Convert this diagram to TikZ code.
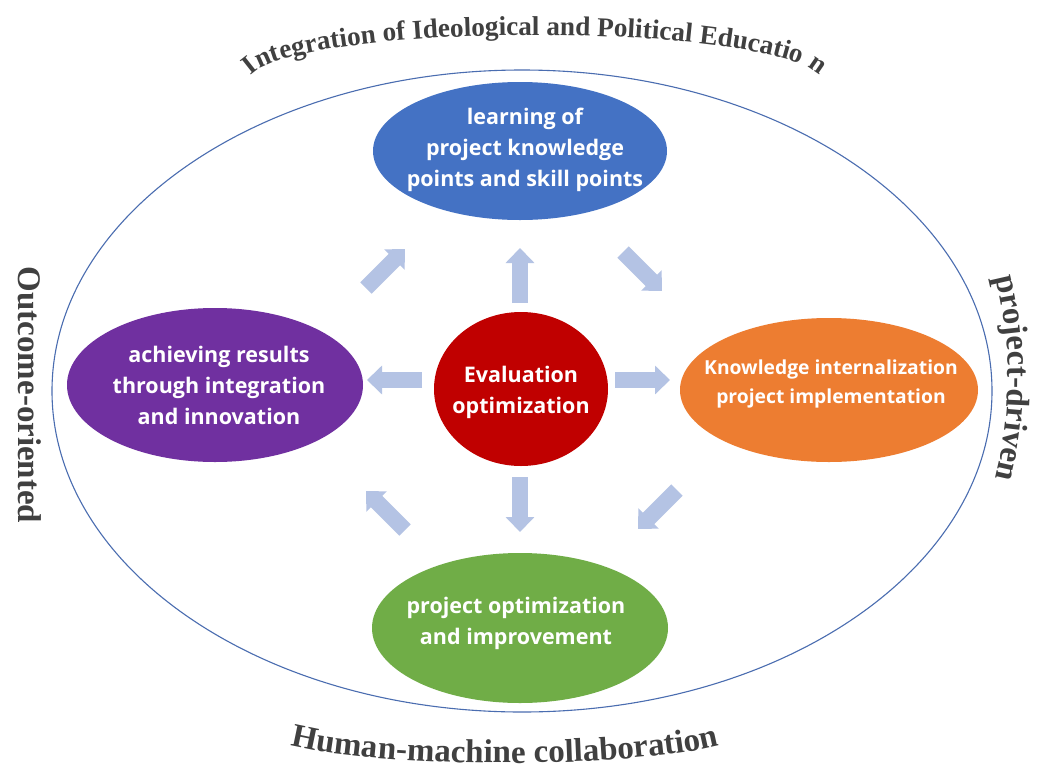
\documentclass[tikz,border=0pt]{standalone}
\usepackage{fontspec}
\setmainfont{Liberation Serif}
\newfontfamily\innerfont{Open Sans}
\usetikzlibrary{shapes.geometric,arrows.meta,decorations.text}
\definecolor{cblue}{HTML}{4472C4}
\definecolor{corange}{HTML}{ED7D31}
\definecolor{cgreen}{HTML}{70AD47}
\definecolor{cpurple}{HTML}{7030A0}
\definecolor{cred}{HTML}{C00000}
\definecolor{arrowc}{HTML}{B4C3E4}
\definecolor{outerc}{HTML}{4A6DB0}
\definecolor{labelc}{HTML}{404040}
\newcommand{\toplblfont}{\color{labelc}\bfseries\fontsize{27.2}{32}\selectfont}
\newcommand{\biglblfont}{\color{labelc}\bfseries\fontsize{33}{36}\selectfont}
\begin{document}
\begin{tikzpicture}[x=1pt,y=-1pt,
  bub/.style={ellipse, inner sep=0pt},
  btxt/.style={text=white, inner sep=0pt,
    font=\innerfont\bfseries\fontsize{21.5}{31}\selectfont, align=center},
  barrow/.style={draw=arrowc, line width=16pt,
    -{Triangle[length=15pt,width=28pt]}},
  sidelbl/.style={text=labelc, font=\biglblfont}]
\useasboundingbox (0,0) rectangle (1045,769);
\fill[white] (0,0) rectangle (1045,769);
% outer ellipse
\node[draw=outerc, line width=1.1pt, ellipse, minimum width=940pt,
  minimum height=642pt, inner sep=0pt] (outer) at (522,391) {};
% bubbles
\node[bub, fill=cblue, minimum width=294pt, minimum height=138pt] (learn) at (520,151) {};
\node[bub, fill=corange, minimum width=298pt, minimum height=144pt] (know) at (829,390) {};
\node[bub, fill=cpurple, minimum width=296pt, minimum height=154pt] (achieve) at (215,385) {};
\node[bub, fill=cgreen, minimum width=296pt, minimum height=150pt] (opt) at (520,628) {};
\node[bub, fill=cred, minimum width=174pt, minimum height=154pt] (eval) at (521,389) {};
% bubble texts
\node[btxt] (learnt) at (525,150) {learning of\\project knowledge\\points and skill points};
\node[btxt, font=\innerfont\bfseries\fontsize{19.3}{29}\selectfont] (knowt)
  at (831,384) {Knowledge internalization\\project implementation};
\node[btxt] (achievet) at (219,385) {achieving results\\through integration\\and innovation};
\node[btxt] (optt) at (516,623) {project optimization\\and improvement};
\node[btxt] (evalt) at (521,392) {Evaluation\\optimization};
% arrow end points
\coordinate (u1) at (520,303); \coordinate (u2) at (520,248);
\coordinate (d1) at (520,477); \coordinate (d2) at (520,532);
\coordinate (l1) at (422,380); \coordinate (l2) at (367,380);
\coordinate (r1) at (615,380); \coordinate (r2) at (670,380);
\coordinate (tl1) at (366,288); \coordinate (tl2) at (405,249);
\coordinate (tr1) at (623,252); \coordinate (tr2) at (662,291);
\coordinate (br1) at (677,490); \coordinate (br2) at (638,529);
\coordinate (bl1) at (405,530); \coordinate (bl2) at (366,491);
\foreach \a in {u,d,l,r,tl,tr,br,bl}{\draw[barrow] (\a1) -- (\a2);}
% outer labels
\path[decorate, decoration={text along path, text align=center,
  text={|\toplblfont|Integration of Ideological and Political Educatio n}}]
  (535,81) ++(180:286 and 46) arc[start angle=180, end angle=360,
  x radius=286, y radius=46];
\path[decorate, decoration={text along path, text align=center,
  text={|\biglblfont|Human-machine collaboration}}]
  (505,731) ++(172:240 and 32) arc[start angle=172, end angle=8,
  x radius=240, y radius=32];
\path[decorate, decoration={text along path, text align=center,
  text={|\biglblfont|project-driven}}]
  (594,378) ++(-17:414) arc[start angle=-17, end angle=17, radius=414];
\node[sidelbl, rotate=-90] (outcome) at (30,395) {Outcome-oriented};
\end{tikzpicture}
\end{document}
